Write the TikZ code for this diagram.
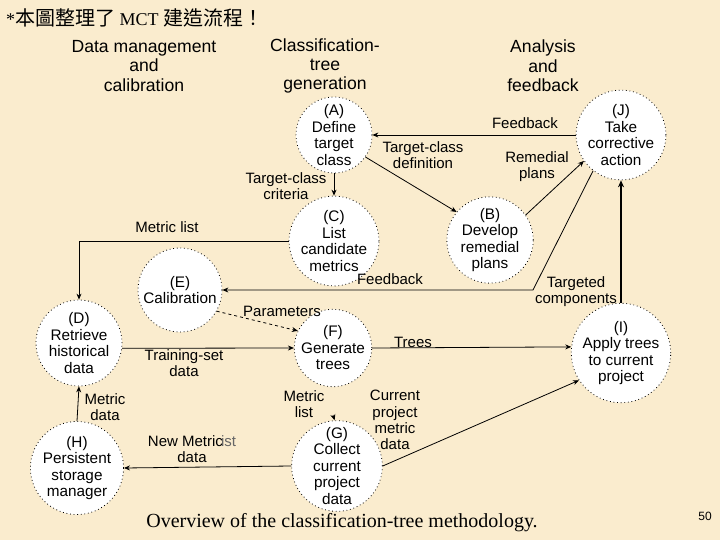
\documentclass[tikz,border=0pt]{standalone}
\usepackage{fontspec}
\setmainfont{Liberation Serif}
\setsansfont{Liberation Sans}
\newfontfamily\cjk{Noto Sans CJK TC}
\usetikzlibrary{arrows.meta,calc}
\definecolor{parch}{RGB}{250,236,206}
\begin{document}
\begin{tikzpicture}[x=1pt,y=-1pt,
  proc/.style={circle,draw,line width=0.8pt,dash pattern=on 0.8pt off 2.8pt,fill=white,inner sep=0pt,minimum size=#1,align=center,font=\sffamily\fontsize{15.3}{16.5}\selectfont},
  proc/.default=80pt,
  lab/.style={align=center,inner sep=0pt,font=\sffamily\fontsize{15}{16.2}\selectfont},
  head/.style={align=center,inner sep=0pt,font=\sffamily\fontsize{17.6}{19.3}\selectfont},
  arr/.style={-{Stealth[length=6pt,width=5pt]},line width=0.8pt},
  thickarr/.style={-{Stealth[length=7pt,width=6pt]},line width=2pt}]
\fill[parch] (0,0) rectangle (720,540);
\useasboundingbox (0,0) rectangle (720,540);

% title
\node[anchor=west,inner sep=0pt,font=\fontsize{18}{20}\selectfont] (title) at (6,18)
  {*{\cjk\fontsize{20}{22}\selectfont 本圖整理了} MCT {\cjk\fontsize{20}{22}\selectfont 建造流程！}};

% headers
\node[head] (h1) at (144,66) {Data management\\and\\calibration};
\node[head] (h2) at (325,66) {Classification-\\tree\\generation};
\node[head] (h3) at (543,66) {Analysis\\and\\feedback};

% process circles
\node[proc=76pt] (A) at (334,135) {(A)\\Define\\target\\class};
\node[proc=80pt] (J) at (621,135) {(J)\\Take\\corrective\\action};
\node[proc=76pt] (C) at (334,241) {(C)\\List\\candidate\\metrics};
\node[proc=84pt] (B) at (490,240) {(B)\\Develop\\remedial\\plans};
\node[proc=84pt] (E) at (180,290) {(E)\\Calibration};
\node[proc=86pt] (D) at (79,343) {(D)\\Retrieve\\historical\\data};
\node[proc=76pt] (F) at (333,348) {(F)\\Generate\\trees};
\node[proc=84pt] (I) at (621,353) {(I)\\Apply trees\\to current\\project};
\node[proc=86pt] (G) at (337,466) {(G)\\Collect\\current\\project\\data};
\node[proc=86pt] (H) at (77,468) {(H)\\Persistent\\storage\\manager};

% labels
\node[lab] (lfb1) at (525,123) {Feedback};
\node[lab] (ltcd) at (423,155) {Target-class\\definition};
\node[lab] (lrp) at (537,167) {Remedial\\plans};
\node[lab] (ltcc) at (286,186) {Target-class\\criteria};
\node[lab] (lml) at (167,227) {Metric list};
\node[lab] (lfb2) at (390,279) {Feedback};
\node[lab] (ltc) at (576,292) {Targeted\\components};
\node[lab] (lpar) at (282,311) {Parameters};
\node[lab] (ltsd) at (184,363) {Training-set\\data};
\node[lab] (ltr) at (413,342) {Trees};
\node[lab] (lmd) at (105,407) {Metric\\data};
\node[lab] (lml2) at (304,404) {Metric\\list};
\node[lab] (lcp) at (395,420) {Current\\project\\metric\\data};
\node[lab] (lnm) at (192,449) {New Metric\hspace{-2pt}{\color{black!60}ist}\\data};

% caption
\node[inner sep=0pt,font=\fontsize{20}{22}\selectfont] (cap) at (342,523) {Overview of the classification-tree methodology.};
\node[inner sep=0pt,font=\sffamily\fontsize{12}{14}\selectfont] (pg) at (705,516) {50};

% connectors
\coordinate (fbc) at (533,290);
\coordinate (mlc) at (333,415);
\draw[arr] (J.west) -- (A.east);
\draw[arr] (A.-35) -- (B.140);
\draw[arr] (A.south) -- (C.north);
\draw[arr] (B.35) -- (J.215);
\draw[arr] (J.232) -- (fbc) -- (E.east);
\draw[thickarr] (I.north) -- (J.south);
\draw[arr] (C.west) -| (D.north);
\draw[arr,dashed] (E.-30) -- (F.154);
\draw[arr] (D.-7) -- (F.west);
\draw[arr] (F.east) -- (I.173);
\draw[arr] (G.east) -- (I.213);
\draw[arr] (mlc) -- (G.93);
\draw[arr] (G.west) -- (H.east);
\draw[arr] (H.north) -- (D.south);
\end{tikzpicture}
\end{document}
